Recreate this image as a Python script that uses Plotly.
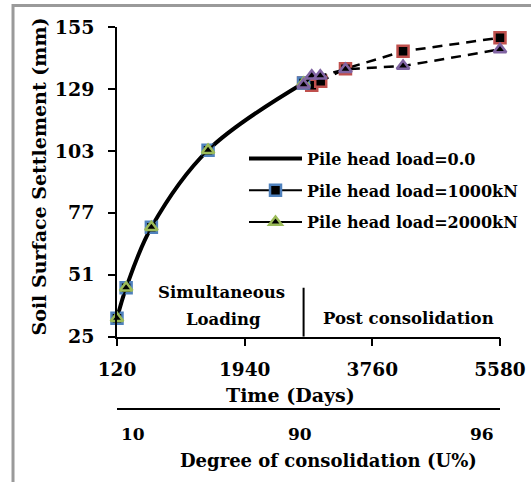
import plotly.graph_objects as go

# Simultaneous loading phase (all load cases follow the same curve)
load_days = [120, 250, 610, 1418, 2780]
load_settlement = [32.7, 45.5, 70.9, 103.3, 131.5]

# Post consolidation phase
post_days_1000 = [2780, 2896, 3024, 3377, 4198, 5580]
post_settlement_1000 = [131.5, 130.5, 132.2, 137.5, 144.8, 150.5]
post_days_2000 = [2780, 2896, 3018, 3377, 4198, 5580]
post_settlement_2000 = [130.8, 134.5, 134.5, 137.3, 138.6, 145.6]

# Axis ticks
time_ticks = [120, 1940, 3760, 5580]
settlement_ticks = [25, 51, 77, 103, 129, 155]
consolidation_days = [344, 2725, 5321]
consolidation_labels = ["10", "90", "96"]
loading_end = 2780

FONT = "DejaVu Serif"
BLUE, GREEN, RED, PURPLE = "#4f81bd", "#9bbb59", "#c0504d", "#8064a2"

fig = go.Figure()

fig.add_trace(go.Scatter(
    x=load_days, y=load_settlement, mode="lines", name="Pile head load=0.0",
    legendgroup="g0", legendrank=1,
    line=dict(color="black", width=4, shape="spline"), cliponaxis=False,
))
fig.add_trace(go.Scatter(
    x=post_days_1000, y=post_settlement_1000, mode="lines+markers", showlegend=False,
    line=dict(color="black", width=2.5, dash="10px,7px"),
    marker=dict(symbol="square", size=11, color="black", line=dict(color=RED, width=2.5)),
    cliponaxis=False,
))
fig.add_trace(go.Scatter(
    x=load_days, y=load_settlement, mode="lines+markers", name="Pile head load=1000kN",
    legendgroup="g1", legendrank=2,
    line=dict(color="black", width=2, shape="spline"),
    marker=dict(symbol="square", size=11, color="black", line=dict(color=BLUE, width=2.5)),
    cliponaxis=False,
))
fig.add_trace(go.Scatter(
    x=load_days, y=load_settlement, mode="lines+markers", name="Pile head load=2000kN",
    legendgroup="g2", legendrank=3,
    line=dict(color="black", width=2, shape="spline"),
    marker=dict(symbol="triangle-up", size=11, color="black", line=dict(color=GREEN, width=2.5)),
    cliponaxis=False,
))
fig.add_trace(go.Scatter(
    x=post_days_2000, y=post_settlement_2000, mode="lines+markers", showlegend=False,
    line=dict(color="black", width=2.5, dash="10px,7px"),
    marker=dict(symbol="triangle-up", size=11, color="black", line=dict(color=PURPLE, width=2.5)),
    cliponaxis=False,
))
# carries the degree-of-consolidation scale
fig.add_trace(go.Scatter(
    x=consolidation_days, y=[None] * len(consolidation_days), xaxis="x2", yaxis="y",
    mode="lines", showlegend=False, hoverinfo="skip",
))

# boundary between simultaneous loading and post consolidation
fig.add_shape(type="line", xref="x", yref="y", x0=loading_end, x1=loading_end,
              y0=25, y1=45.5, line=dict(color="black", width=2))

# outer frame
fig.add_shape(type="rect", xref="paper", yref="paper", x0=-0.2715, x1=1.1,
              y0=-0.3, y1=1.0565, line=dict(color="#9a9a9a", width=3), layer="below")

bold = dict(family=FONT, color="black", weight="bold")

def note(text, x, y, size, angle=0):
    fig.add_annotation(text=text, xref="paper", yref="paper", x=x, y=y,
                       showarrow=False, textangle=angle,
                       font=dict(size=size, **bold), xanchor="center", yanchor="middle")

note("Soil Surface Settlement (mm)", -0.2037, 0.6086, 19, angle=-90)
note("Time (Days)", 0.453, 0.036, 19)
note("Degree of consolidation (U%)", 0.551, -0.134, 18)
note("Simultaneous", 0.272, 0.304, 16.5)
note("Loading", 0.279, 0.234, 16.5)
note("Post consolidation", 0.761, 0.236, 16.5)

fig.update_layout(
    width=531, height=482,
    margin=dict(l=117, r=31, t=27, b=73, autoexpand=False),
    paper_bgcolor="white", plot_bgcolor="white",
    font=dict(family=FONT, color="black", weight="bold"),
    showlegend=True,
    legend=dict(x=0.3316, y=0.70, xanchor="left", yanchor="top",
                bgcolor="rgba(0,0,0,0)", font=dict(size=16, family=FONT, color="black", weight="bold"),
                itemwidth=53, traceorder="grouped", tracegroupgap=8),
    xaxis=dict(range=[120, 5580], tickvals=time_ticks, showgrid=False, zeroline=False,
               showline=True, linecolor="black", linewidth=1.5,
               ticks="outside", ticklen=8, tickwidth=1.5, tickcolor="black",
               ticklabelstandoff=7,
               tickfont=dict(size=18.5, **bold), anchor="y", domain=[0, 1]),
    xaxis2=dict(range=[120, 5580], tickvals=consolidation_days, ticktext=consolidation_labels,
                overlaying="x", anchor="free", position=0, side="bottom",
                showgrid=False, zeroline=False, showline=True, linecolor="black", linewidth=2,
                ticks="", ticklabelstandoff=10,
                tickfont=dict(size=17, **bold), domain=[0, 1]),
    yaxis=dict(range=[25, 155], tickvals=settlement_ticks, showgrid=False, zeroline=False,
               showline=True, linecolor="black", linewidth=1.5,
               ticks="outside", ticklen=7, tickwidth=1.5, tickcolor="black",
               ticklabelstandoff=10,
               tickfont=dict(size=19, **bold), domain=[0.1893, 1]),
)

fig.write_html("out.html")
